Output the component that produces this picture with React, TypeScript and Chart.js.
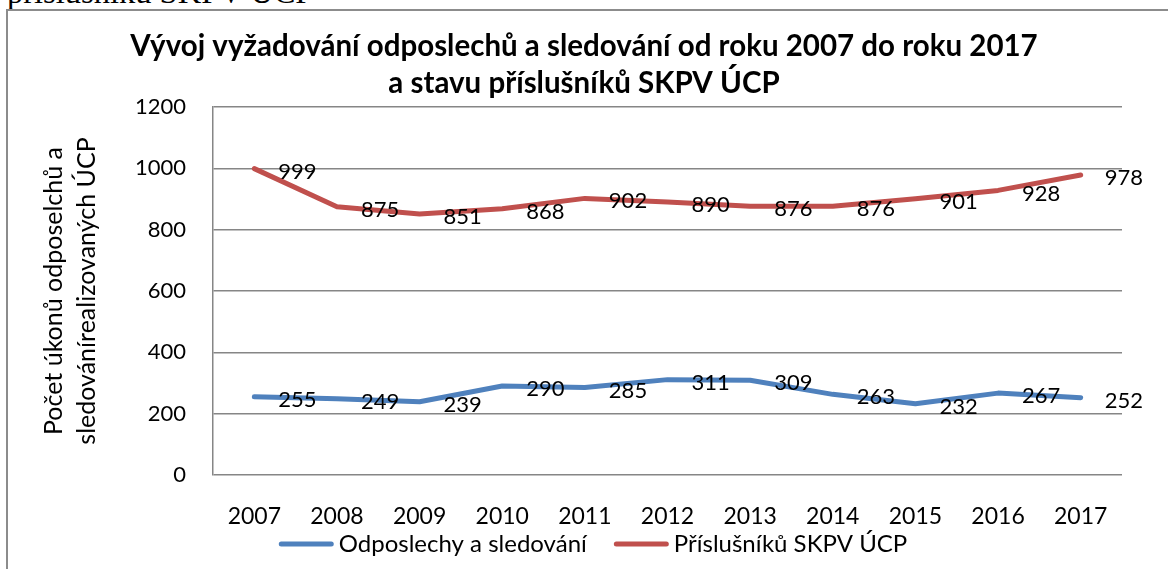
import { useEffect, useRef } from "react";
import { Chart, registerables } from "chart.js";

Chart.register(...registerables);

const years = ["2007", "2008", "2009", "2010", "2011", "2012", "2013", "2014", "2015", "2016", "2017"];
const odposlechy = [255, 249, 239, 290, 285, 311, 309, 263, 232, 267, 252];
const prislusniku = [999, 875, 851, 868, 902, 890, 876, 876, 901, 928, 978];
const seriesNames = ["Odposlechy a sledování", "Příslušníků SKPV ÚCP"];
const seriesColors = ["#4F81BD", "#C0504D"];
const titleLines = [
  "Vývoj vyžadování odposlechů a sledování od roku 2007 do roku 2017",
  "a stavu příslušníků SKPV ÚCP",
];
const yAxisTitle = ["Počet úkonů odposelchů a", "sledovánírealizovaných ÚCP"];
const yMin = 0;
const yMax = 1200;
const yStep = 200;
const headerFragment = "příslušníků SKPV ÚCP";

const FONT = "Lato";

const dataLabelPlugin = {
  id: "dataLabels",
  afterDatasetsDraw(chart: any) {
    const ctx = chart.ctx;
    ctx.save();
    ctx.font = `22px ${FONT}`;
    ctx.fillStyle = "#000";
    ctx.textAlign = "left";
    ctx.textBaseline = "middle";
    chart.data.datasets.forEach((ds: any, i: number) => {
      const meta = chart.getDatasetMeta(i);
      meta.data.forEach((pt: any, j: number) => {
        ctx.fillText(String(ds.data[j]), pt.x + 24, pt.y + 3);
      });
    });
    ctx.restore();
  },
};

const legendPlugin = {
  id: "lineLegend",
  afterDraw(chart: any) {
    const ctx = chart.ctx;
    ctx.save();
    ctx.font = `24px ${FONT}`;
    const sample = 55;
    const gapText = 5;
    const gapItem = 27;
    const items = chart.data.datasets.map((ds: any) => ({
      text: ds.label,
      color: ds.borderColor,
      w: ctx.measureText(ds.label).width,
    }));
    const total =
      items.reduce((a: number, it: any) => a + sample + gapText + it.w, 0) + gapItem * (items.length - 1);
    let x = chart.width / 2 + 9 - total / 2;
    const y = chart.chartArea.bottom + 69;
    items.forEach((it: any) => {
      ctx.strokeStyle = it.color;
      ctx.lineWidth = 5;
      ctx.lineCap = "round";
      ctx.beginPath();
      ctx.moveTo(x + 2.5, y);
      ctx.lineTo(x + sample - 2.5, y);
      ctx.stroke();
      ctx.fillStyle = "#000";
      ctx.textAlign = "left";
      ctx.textBaseline = "middle";
      ctx.fillText(it.text, x + sample + gapText, y);
      x += sample + gapText + it.w + gapItem;
    });
    ctx.restore();
  },
};

export default function App() {
  const canvasRef = useRef<HTMLCanvasElement | null>(null);

  useEffect(() => {
    if (!canvasRef.current) return;
    const chart = new Chart(canvasRef.current, {
      type: "line",
      data: {
        labels: years,
        datasets: [
          {
            label: seriesNames[0],
            data: odposlechy,
            borderColor: seriesColors[0],
            backgroundColor: seriesColors[0],
            borderWidth: 5,
            pointRadius: 0,
            tension: 0,
            borderJoinStyle: "round",
            borderCapStyle: "round",
            yAxisID: "y",
          },
          {
            label: seriesNames[1],
            data: prislusniku,
            borderColor: seriesColors[1],
            backgroundColor: seriesColors[1],
            borderWidth: 5,
            pointRadius: 0,
            tension: 0,
            borderJoinStyle: "round",
            borderCapStyle: "round",
            yAxisID: "y",
          },
        ],
      },
      options: {
        responsive: false,
        animation: false,
        layout: { padding: { left: 0, right: 0, top: 0, bottom: 30 } },
        plugins: {
          title: {
            display: true,
            text: titleLines,
            color: "#000",
            font: { family: FONT, size: 29.5, weight: "bold", lineHeight: 37 / 29.5 },
            padding: { top: 27.5, bottom: 5.5 },
          },
          legend: { display: false },
          tooltip: { enabled: false },
        },
        scales: {
          x: {
            offset: true,
            grid: { display: false, drawTicks: false },
            border: { display: false },
            ticks: {
              color: "#000",
              font: { family: FONT, size: 23 },
              padding: 28.2,
              maxRotation: 0,
              autoSkip: false,
            },
            afterFit: (s: any) => {
              s.height = 64;
            },
          },
          y: {
            position: "left",
            min: yMin,
            max: yMax,
            grid: { color: "#868686", lineWidth: 1.5, drawTicks: false },
            border: { display: true, color: "#868686", width: 1.5 },
            ticks: {
              stepSize: yStep,
              color: "#000",
              font: { family: FONT, size: 22 },
              padding: 27,
              callback: (v: any) => String(v),
            },
            title: {
              display: true,
              text: yAxisTitle,
              color: "#000",
              font: { family: FONT, size: 25, lineHeight: 33 / 25 },
              padding: { top: 37, bottom: 0 },
            },
            afterFit: (s: any) => {
              s.width = 213;
            },
          },
          y2: {
            position: "right",
            display: true,
            min: yMin,
            max: yMax,
            grid: { display: false, drawTicks: false },
            border: { display: false },
            ticks: { display: false },
            afterFit: (s: any) => {
              s.width = 46;
            },
          },
        },
      },
      plugins: [dataLabelPlugin, legendPlugin],
    } as any);
    return () => chart.destroy();
  }, []);

  return (
    <div
      style={{
        position: "absolute",
        left: 0,
        top: 0,
        width: 1168,
        height: 569,
        overflow: "hidden",
        background: "#fff",
      }}
    >
      <div
        style={{
          position: "absolute",
          left: 7,
          top: -24,
          fontFamily: "'Liberation Serif', serif",
          fontSize: 32.5,
          lineHeight: "32px",
          whiteSpace: "nowrap",
          color: "#000",
        }}
      >
        {headerFragment}
      </div>
      <div
        style={{
          position: "absolute",
          left: 6,
          top: 9,
          width: 1300,
          height: 700,
          borderLeft: "2px solid #8c8c8c",
          borderTop: "2px solid #8c8c8c",
        }}
      />
      <canvas
        ref={canvasRef}
        width={1168}
        height={569}
        style={{ position: "absolute", left: 0, top: 0, width: 1168, height: 569 }}
      />
    </div>
  );
}
